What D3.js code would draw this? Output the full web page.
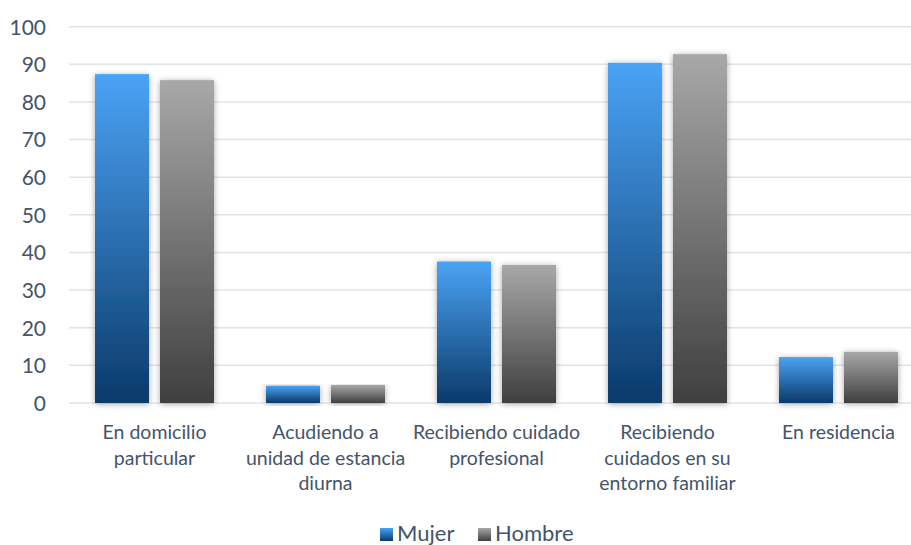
<!DOCTYPE html>
<html><head><meta charset="utf-8">
<script src="https://cdn.jsdelivr.net/npm/d3@7"></script>
<style>body{margin:0;background:#fff}svg{display:block}</style>
</head><body>
<svg id="c" width="911" height="545"></svg>
<script>
const categories = [
  ["En domicilio","particular"],
  ["Acudiendo a","unidad de estancia","diurna"],
  ["Recibiendo cuidado","profesional"],
  ["Recibiendo","cuidados en su","entorno familiar"],
  ["En residencia"]
];
const seriesNames = ["Mujer","Hombre"];
const mujer = [87.4, 4.6, 37.6, 90.4, 12.2];
const hombre = [85.8, 4.8, 36.7, 92.7, 13.6];
const yTicks = [0,10,20,30,40,50,60,70,80,90,100];

const svg = d3.select("#c");
const font = "Lato, 'Open Sans', sans-serif";
const textColor = "#44546a";
const x0 = d3.scaleBand().domain(d3.range(categories.length)).range([69, 924]).paddingInner(0).paddingOuter(0);
const x1 = d3.scaleBand().domain(seriesNames).range([26, 145]).paddingInner(11/65).paddingOuter(0);
const y = d3.scaleLinear().domain([0,100]).range([403, 26.7]);

const defs = svg.append("defs");
function grad(id, top, bottom){
  const g = defs.append("linearGradient").attr("id", id).attr("x1",0).attr("y1",0).attr("x2",0).attr("y2",1);
  g.append("stop").attr("offset","0%").attr("stop-color",top);
  g.append("stop").attr("offset","100%").attr("stop-color",bottom);
}
grad("gM", "#4aa3f5", "#0b3a6a");
grad("gH", "#a8a8a8", "#3f3f3f");
const f = defs.append("filter").attr("id","sh").attr("x","-30%").attr("y","-10%").attr("width","160%").attr("height","125%");
f.append("feGaussianBlur").attr("in","SourceAlpha").attr("stdDeviation",3).attr("result","b");
f.append("feOffset").attr("in","b").attr("dx",0).attr("dy",1).attr("result","o");
f.append("feComponentTransfer").attr("in","o").attr("result","o2").append("feFuncA").attr("type","linear").attr("slope",0.35);
const m = f.append("feMerge"); m.append("feMergeNode").attr("in","o2"); m.append("feMergeNode").attr("in","SourceGraphic");

// gridlines
svg.append("g").selectAll("line").data(yTicks).join("line")
  .attr("x1",69).attr("x2",911).attr("y1",d=>y(d)).attr("y2",d=>y(d))
  .attr("stroke","#dfe4ea").attr("stroke-width",1.5);

// y axis labels
const yAxis = d3.axisLeft(y).tickValues(yTicks).tickSize(0).tickPadding(0);
const ya = svg.append("g").attr("transform","translate(46,0)").call(yAxis);
ya.select(".domain").remove();
ya.selectAll("text").attr("font-family",font).attr("font-size",21).attr("fill",textColor).attr("dy","0.35em");

// bars
const data = categories.map((c,i)=>[{s:"Mujer",v:mujer[i]},{s:"Hombre",v:hombre[i]}]);
const gg = svg.append("g").selectAll("g").data(data).join("g")
  .attr("transform",(d,i)=>`translate(${x0(i)},0)`);
gg.selectAll("rect").data(d=>d).join("rect")
  .attr("x",d=>x1(d.s)).attr("width",x1.bandwidth())
  .attr("y",d=>y(d.v)).attr("height",d=>y(0)-y(d.v))
  .attr("fill",d=>d.s==="Mujer"?"url(#gM)":"url(#gH)")
  .attr("filter","url(#sh)");

// category labels
const xa = svg.append("g");
categories.forEach((lines,i)=>{
  const t = xa.append("text").attr("x", x0(i)+x0.bandwidth()/2).attr("y",439)
    .attr("text-anchor","middle").attr("font-family",font).attr("font-size",19.5).attr("fill",textColor);
  lines.forEach((l,j)=>t.append("tspan").attr("x",x0(i)+x0.bandwidth()/2).attr("y",439+j*25.5).text(l));
});

// legend
const lg = svg.append("g");
const legendX = [380, 478];
seriesNames.forEach((s,i)=>{
  lg.append("rect").attr("x",legendX[i]).attr("y",528).attr("width",13).attr("height",13)
    .attr("fill", i===0?"url(#gM)":"url(#gH)");
  lg.append("text").attr("x",legendX[i]+17).attr("y",540.5).attr("font-family",font).attr("font-size",22)
    .attr("fill",textColor).text(s);
});
</script>
</body></html>
